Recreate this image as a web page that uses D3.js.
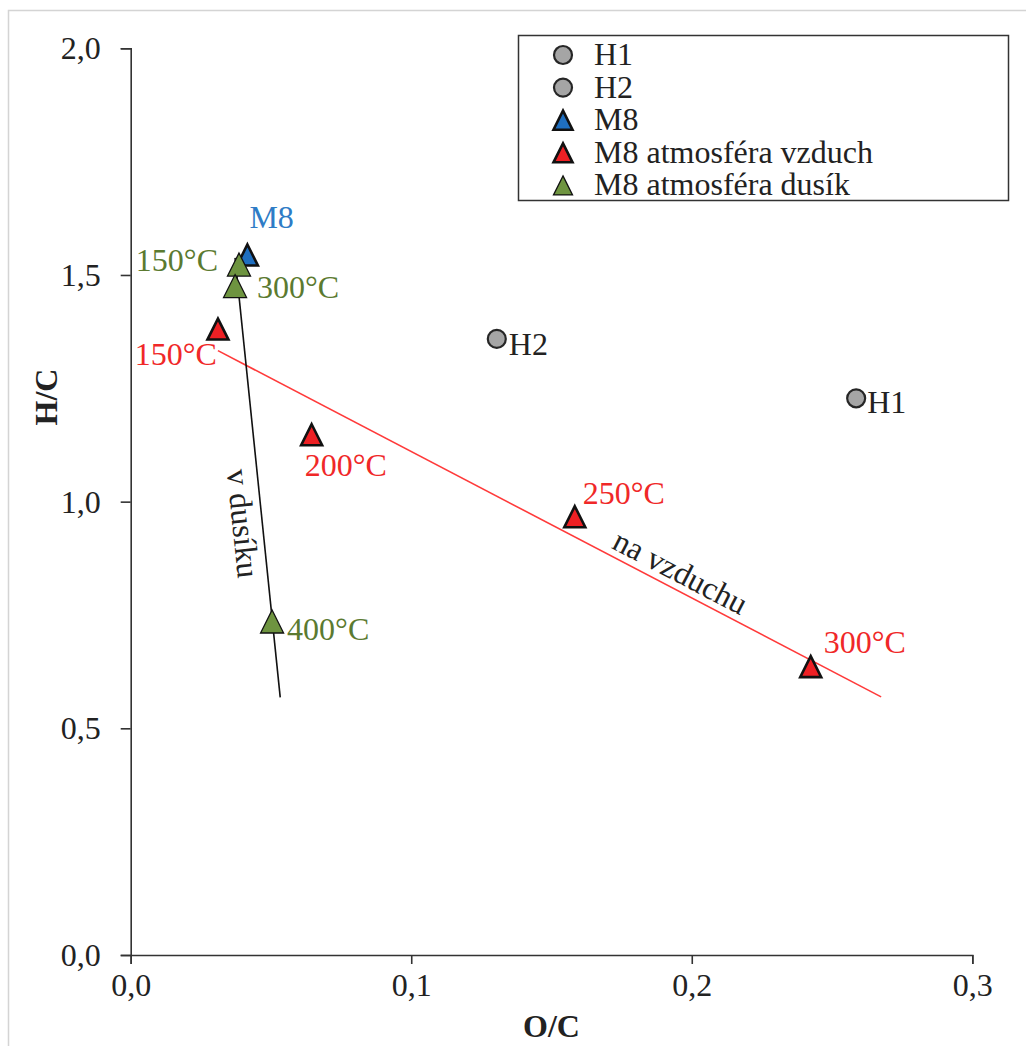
<!DOCTYPE html>
<html>
<head>
<meta charset="utf-8">
<script src="https://cdn.jsdelivr.net/npm/d3@7"></script>
<style>
  html, body { margin: 0; padding: 0; background: #fff; }
  svg text { font-family: "Liberation Serif", "Times New Roman", serif; }
</style>
</head>
<body>
<svg id="chart" width="1026" height="1046"></svg>
<script>
// --- data -------------------------------------------------------------
const seriesNames = ["H1", "H2", "M8", "M8 atmosféra vzduch", "M8 atmosféra dusík"];

const h1OC = [0.2586];
const h1HC = [1.228];

const h2OC = [0.1305];
const h2HC = [1.359];

const m8OC = [0.0416];
const m8HC = [1.544];

// carbonised in air
const airOC = [0.0311, 0.0645, 0.1583, 0.2424];
const airHC = [1.3807, 1.1476, 0.9667, 0.636];
const airTemps = ["150°C", "200°C", "250°C", "300°C"];
const airTrendRange = [0.0311, 0.2675];

// carbonised in nitrogen
const n2OC = [0.0386, 0.0372, 0.0504];
const n2HC = [1.523, 1.4755, 0.7356];
const n2Temps = ["150°C", "300°C", "400°C"];
const n2TrendRange = [0.0372, 0.0533];

const xTicks = [0, 0.1, 0.2, 0.3];
const yTicks = [0, 0.5, 1.0, 1.5, 2.0];

// --- styling ----------------------------------------------------------
const col = {
  grey: "#a5a5a5", blue: "#1f6fc0", blueText: "#2e7cc6",
  red: "#ee2024", redText: "#f02828", redLine: "#ff3a3a",
  green: "#6e9440", greenText: "#5b7a30", axis: "#333"
};
const FS = 32;

const svg = d3.select("#chart");

// outer frame
svg.append("rect").attr("x", 8.5).attr("y", 10.5).attr("width", 1040).attr("height", 1060)
  .attr("fill", "none").attr("stroke", "#d4d4d4").attr("stroke-width", 1.5);

const x = d3.scaleLinear().domain([0, 0.3]).range([130.7, 972.3]);
const y = d3.scaleLinear().domain([0, 2]).range([955, 48.3]);
const comma = v => d3.format(".1f")(v).replace(".", ",");

// axes
const gx = svg.append("g").attr("transform", `translate(0,${y(0)})`)
  .call(d3.axisBottom(x).tickValues(xTicks).tickFormat(comma).tickSize(9).tickSizeOuter(9).tickPadding(9));
const gy = svg.append("g").attr("transform", `translate(${x(0)},0)`)
  .call(d3.axisLeft(y).tickValues(yTicks).tickFormat(comma).tickSize(10).tickSizeOuter(10).tickPadding(20));
[gx, gy].forEach(g => {
  g.selectAll("path.domain").attr("stroke", col.axis).attr("stroke-width", 1.6);
  g.selectAll(".tick line").attr("stroke", col.axis).attr("stroke-width", 1.6);
  g.selectAll(".tick text").attr("font-size", FS).attr("fill", "#222")
    .attr("font-family", "Liberation Serif, serif");
});
gx.selectAll(".tick text").attr("dy", "0.72em");
gy.selectAll(".tick text").attr("dy", "0.33em");

// axis titles
svg.append("text").attr("x", (x(0) + x(0.3)) / 2).attr("y", 1037)
  .attr("text-anchor", "middle").attr("font-size", FS).attr("font-weight", "bold")
  .attr("fill", "#222").text("O/C");
svg.append("text").attr("transform", `translate(57,397) rotate(-90)`)
  .attr("text-anchor", "middle").attr("font-size", FS).attr("font-weight", "bold")
  .attr("fill", "#222").text("H/C");

// trendlines (least squares fit per atmosphere)
function fit(xs, ys) {
  const mx = d3.mean(xs), my = d3.mean(ys);
  const sxy = d3.sum(xs, (v, i) => (v - mx) * (ys[i] - my));
  const sxx = d3.sum(xs, v => (v - mx) * (v - mx));
  const b = sxy / sxx;
  return t => my + b * (t - mx);
}
const airFit = fit(airOC, airHC);
const n2Fit = fit(n2OC, n2HC);
const line = d3.line().x(d => x(d[0])).y(d => y(d[1]));
svg.append("path").datum(airTrendRange.map(t => [t, airFit(t)]))
  .attr("d", line).attr("stroke", col.redLine).attr("stroke-width", 1.6).attr("fill", "none");
svg.append("path").datum(n2TrendRange.map(t => [t, n2Fit(t)]))
  .attr("d", line).attr("stroke", "#111").attr("stroke-width", 1.6).attr("fill", "none");

// line captions
function lineCaption(range, f, frac, off, text, color) {
  const x0 = x(range[0]), y0 = y(f(range[0])), x1 = x(range[1]), y1 = y(f(range[1]));
  let ang = Math.atan2(y1 - y0, x1 - x0) * 180 / Math.PI;
  const px = x0 + (x1 - x0) * frac, py = y0 + (y1 - y0) * frac;
  svg.append("text").attr("transform", `translate(${px},${py}) rotate(${ang}) translate(0,${off})`)
    .attr("text-anchor", "middle").attr("font-size", FS).attr("fill", color).text(text);
}
lineCaption(airTrendRange, airFit, 0.685, -7, "na vzduchu", "#222");
lineCaption(n2TrendRange, n2Fit, 0.6, 30, "v dusíku", "#222");

// markers
const tri = s => `M0,${-s / 2}L${s / 2},${s / 2}L${-s / 2},${s / 2}Z`;
function triangles(xs, ys, fill, sw, s) {
  svg.append("g").selectAll("path").data(xs).join("path")
    .attr("d", tri(s)).attr("transform", (d, i) => `translate(${x(d)},${y(ys[i])})`)
    .attr("fill", fill).attr("stroke", "#111").attr("stroke-width", sw).attr("stroke-linejoin", "miter");
}
function circles(xs, ys) {
  svg.append("g").selectAll("circle").data(xs).join("circle")
    .attr("cx", d => x(d)).attr("cy", (d, i) => y(ys[i])).attr("r", 9)
    .attr("fill", col.grey).attr("stroke", "#262626").attr("stroke-width", 2.2);
}
circles(h1OC, h1HC);
circles(h2OC, h2HC);
triangles(m8OC, m8HC, col.blue, 2.6, 21);
triangles(airOC, airHC, col.red, 2.6, 21);
triangles(n2OC, n2HC, col.green, 1.3, 23);

// point labels: offsets from the marker centre
function label(xv, yv, text, dx, dy, anchor, color) {
  svg.append("text").attr("x", x(xv) + dx).attr("y", y(yv) + dy)
    .attr("text-anchor", anchor).attr("font-size", FS).attr("fill", color).text(text);
}
label(h1OC[0], h1HC[0], "H1", 11, 15, "start", "#222");
label(h2OC[0], h2HC[0], "H2", 12, 16, "start", "#222");
label(m8OC[0], m8HC[0], "M8", 2, -27, "start", col.blueText);
const airOff = [[-1, 36, "end"], [-7, 41, "start"], [8, -13, "start"], [13, -14, "start"]];
airOC.forEach((v, i) => label(v, airHC[i], airTemps[i], airOff[i][0], airOff[i][1], airOff[i][2], col.redText));
const n2Off = [[-21, 6, "end"], [22, 12, "start"], [15, 18, "start"]];
n2OC.forEach((v, i) => label(v, n2HC[i], n2Temps[i], n2Off[i][0], n2Off[i][1], n2Off[i][2], col.greenText));

// legend
const lg = svg.append("g");
lg.append("rect").attr("x", 518.5).attr("y", 35.5).attr("width", 490).attr("height", 165)
  .attr("fill", "#fff").attr("stroke", "#333").attr("stroke-width", 1.5);
const legendKinds = [
  { shape: "circle", fill: col.grey, sw: 2.2 },
  { shape: "circle", fill: col.grey, sw: 2.2 },
  { shape: "tri", fill: col.blue, sw: 2.6 },
  { shape: "tri", fill: col.red, sw: 2.6 },
  { shape: "tri", fill: col.green, sw: 1.3 }
];
seriesNames.forEach((name, i) => {
  const cy = 55 + i * 32.6;
  const k = legendKinds[i];
  if (k.shape === "circle") {
    lg.append("circle").attr("cx", 563).attr("cy", cy).attr("r", 9)
      .attr("fill", k.fill).attr("stroke", "#262626").attr("stroke-width", k.sw);
  } else {
    lg.append("path").attr("d", tri(19)).attr("transform", `translate(563,${cy})`)
      .attr("fill", k.fill).attr("stroke", "#111").attr("stroke-width", k.sw);
  }
  lg.append("text").attr("x", 594).attr("y", cy + 10).attr("font-size", FS).attr("fill", "#222").text(name);
});
</script>
</body>
</html>
